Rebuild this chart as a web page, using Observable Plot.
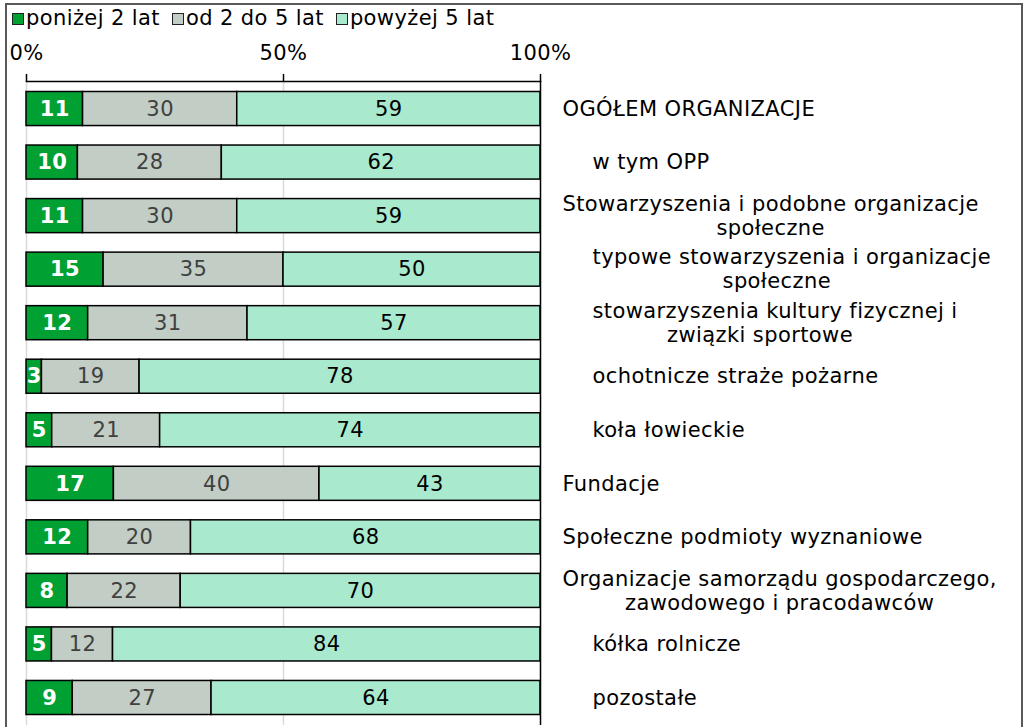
<!DOCTYPE html>
<html>
<head>
<meta charset="utf-8">
<script src="https://cdn.jsdelivr.net/npm/d3@7"></script>
<script src="https://cdn.jsdelivr.net/npm/@observablehq/plot@0.6"></script>
<style>
  html, body { margin: 0; padding: 0; background: #fff; }
  body { width: 1026px; height: 727px; overflow: hidden; position: relative; font-family: "DejaVu Sans", Verdana, sans-serif; }
  #border { position: absolute; left: 5px; top: 3px; width: 1018px; height: 800px; border: 2px solid #595959; box-sizing: border-box; }
  #chart { position: absolute; left: 0; top: 0; width: 1026px; }
  #legend { height: 32px; display: flex; align-items: center; padding-left: 12px; padding-top: 3px; box-sizing: border-box; font-size: 21px; letter-spacing: 0.4px; color: #000; }
  .item { display: flex; align-items: center; margin-right: 12px; }
  .sw { width: 10px; height: 10px; border: 1px solid #222; margin-right: 2px; margin-top: 2px; }
  svg { display: block; }
</style>
</head>
<body>
<div id="border"></div>
<div id="chart">
  <div id="legend"></div>
  <div id="plot"></div>
</div>
<script>
// ---- data ----
const seriesNames = ["poniżej 2 lat", "od 2 do 5 lat", "powyżej 5 lat"];
const seriesColors = ["#00a032", "#c1cdc5", "#a9e9cd"];
const labelLine1 = [
  "OGÓŁEM ORGANIZACJE",
  "w tym OPP",
  "Stowarzyszenia i podobne organizacje",
  "typowe stowarzyszenia i organizacje",
  "stowarzyszenia kultury fizycznej i",
  "ochotnicze straże pożarne",
  "koła łowieckie",
  "Fundacje",
  "Społeczne podmioty wyznaniowe",
  "Organizacje samorządu gospodarczego,",
  "kółka rolnicze",
  "pozostałe"
];
const labelLine2 = ["", "", "społeczne", "społeczne", "związki sportowe", "", "", "", "", "zawodowego i pracodawców", "", ""];
const labelIndent = [0, 1, 0, 1, 1, 1, 1, 0, 0, 0, 1, 1];
const below2 = [11, 10, 11, 15, 12, 3, 5, 17, 12, 8, 5, 9];
const from2to5 = [30, 28, 30, 35, 31, 19, 21, 40, 20, 22, 12, 27];
const above5 = [59, 62, 59, 50, 57, 78, 74, 43, 68, 70, 84, 64];
const xTicks = [0, 0.5, 1];

// ---- build table ----
const categories = labelLine1.map((l, i) => labelLine2[i] ? l + " " + labelLine2[i] : l);
const seriesValues = [below2, from2to5, above5];
const rows = [];
seriesNames.forEach((s, si) => {
  categories.forEach((c, ci) => rows.push({cat: c, series: s, value: seriesValues[si][ci]}));
});

// ---- legend ----
const legend = document.getElementById("legend");
seriesNames.forEach((s, i) => {
  const it = document.createElement("div");
  it.className = "item";
  const sw = document.createElement("span");
  sw.className = "sw";
  sw.style.background = seriesColors[i];
  const tx = document.createElement("span");
  tx.textContent = s;
  it.appendChild(sw); it.appendChild(tx);
  legend.appendChild(it);
});

// ---- text measurement for centred second lines ----
const FONT = "DejaVu Sans";
const FS = 21;
const LS = 0.4;
const ctx = document.createElement("canvas").getContext("2d");
ctx.font = `${FS}px "${FONT}"`;
const measure = t => ctx.measureText(t).width + LS * t.length;
const GAP = 22, INDENT = 30;

const labelMarks = [];
categories.forEach((c, i) => {
  const ind = labelIndent[i] ? INDENT : 0;
  const two = !!labelLine2[i];
  labelMarks.push(Plot.text([c], {
    y: d => d, frameAnchor: "right", text: () => labelLine1[i],
    textAnchor: "start", dx: GAP + ind, dy: two ? -12 : 0,
    fontSize: FS, fill: "#000"
  }));
  if (two) {
    labelMarks.push(Plot.text([c], {
      y: d => d, frameAnchor: "right", text: () => labelLine2[i],
      textAnchor: "middle", dx: GAP + (ind + measure(labelLine1[i])) / 2, dy: 12,
      fontSize: FS, fill: "#000"
    }));
  }
});

const textColor = {"poniżej 2 lat": "#ffffff", "od 2 do 5 lat": "#404040", "powyżej 5 lat": "#000000"};

const chart = Plot.plot({
  width: 1026,
  height: 693,
  marginTop: 49,
  marginBottom: 0,
  marginLeft: 26,
  marginRight: 486,
  style: {fontFamily: FONT, fontSize: FS + "px", letterSpacing: LS + "px", background: "transparent", color: "#000"},
  x: {domain: [0, 1], axis: null},
  y: {domain: categories, paddingInner: 0.364, paddingOuter: 0.196, round: false, axis: null},
  color: {domain: seriesNames, range: seriesColors},
  marks: [
    Plot.ruleX([0, 0.5], {stroke: "#d9d9d9", strokeWidth: 1.5}),
    Plot.barX(rows, Plot.stackX({x: "value", y: "cat", fill: "series", offset: "normalize", stroke: "#000", strokeWidth: 1.5})),
    Plot.ruleX([1], {stroke: "#000", strokeWidth: 1.5}),
    Plot.axisX({anchor: "top", ticks: xTicks, tickFormat: d3.format(".0%"), label: null, tickSize: 8, tickPadding: 14, fontSize: FS, stroke: "#000", strokeWidth: 1.5}),
    Plot.frame({anchor: "top", stroke: "#000", strokeWidth: 1.5}),
    Plot.text(rows, Plot.stackX({
      x: "value", y: "cat", z: "series", offset: "normalize",
      text: d => d.series === seriesNames[0] ? String(d.value) : "",
      fill: d => textColor[d.series], fontWeight: "bold", fontSize: FS
    })),
    Plot.text(rows, Plot.stackX({
      x: "value", y: "cat", z: "series", offset: "normalize",
      text: d => d.series === seriesNames[0] ? "" : String(d.value),
      fill: d => textColor[d.series], fontSize: FS
    })),
    ...labelMarks
  ]
});
document.getElementById("plot").appendChild(chart);
</script>
</body>
</html>
